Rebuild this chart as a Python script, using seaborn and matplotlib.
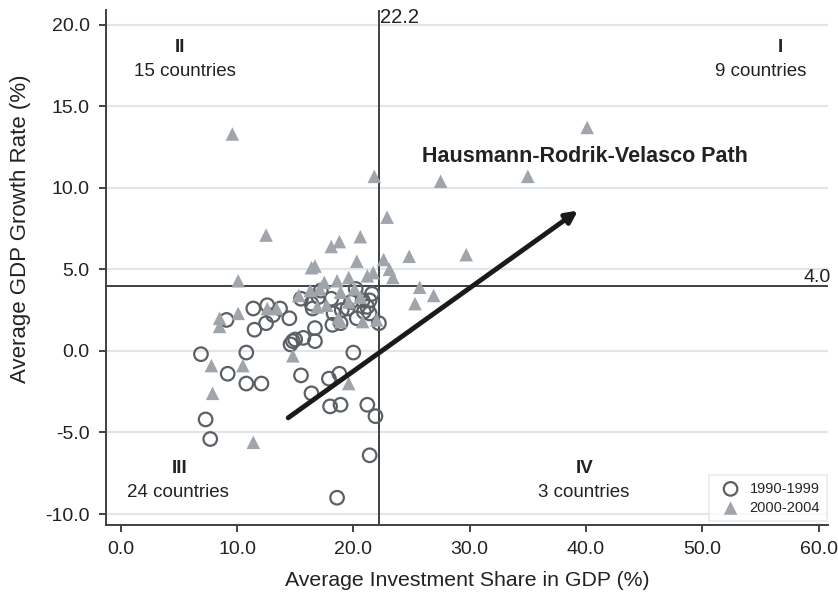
import matplotlib
matplotlib.use("Agg")
import matplotlib.pyplot as plt
import seaborn as sns
import pandas as pd

# 1990-1999 (hollow circles)
inv_90s = [6.9, 7.3, 7.7, 9.2, 10.8, 12.1, 10.8, 9.1, 11.4, 11.5, 12.5, 12.6, 13.1, 13.7,
           14.5, 15.5, 16.4, 16.5, 14.8, 14.6, 15.0, 15.7, 16.7, 16.7, 17.2, 18.1, 18.3,
           18.2, 18.9, 19.5, 19.8, 20.2, 20.3, 20.8, 21.2, 21.4, 20.9, 21.4, 22.2, 20.0,
           15.5, 16.4, 17.9, 18.8, 18.0, 18.9, 21.2, 21.9, 21.4, 18.6, 17.0, 19.0, 21.6]
gdp_90s = [-0.2, -4.2, -5.4, -1.4, -2.0, -2.0, -0.1, 1.9, 2.6, 1.3, 1.7, 2.8, 2.2, 2.6,
           2.0, 3.2, 2.9, 2.6, 0.6, 0.4, 0.7, 0.8, 1.4, 0.6, 3.7, 3.2, 2.3,
           1.6, 1.7, 2.6, 3.0, 3.8, 2.0, 3.1, 2.7, 3.1, 2.4, 2.3, 1.7, -0.1,
           -1.5, -2.6, -1.7, -1.4, -3.4, -3.3, -3.3, -4.0, -6.4, -9.0, 3.3, 2.5, 3.5]

# 2000-2004 (filled triangles)
inv_00s = [40.1, 35.0, 27.5, 29.7, 22.9, 24.8, 22.6, 23.1, 23.4,            # I
           25.7, 26.9, 25.3,                                                # IV
           9.6, 21.8, 12.5, 18.8, 18.1, 20.6, 20.3, 16.4, 16.7, 10.1, 18.6,
           19.6, 21.2, 21.7, 17.5,                                          # II
           8.5, 8.5, 10.1, 7.8, 10.5, 7.9, 11.4, 14.8, 19.6, 12.6, 13.4, 16.3,
           17.1, 18.9, 16.9, 17.7, 18.7, 18.9, 20.6, 20.8, 22.0, 19.6, 15.3, 20.1]  # III
gdp_00s = [13.7, 10.7, 10.4, 5.9, 8.2, 5.8, 5.6, 5.0, 4.5,
           3.9, 3.4, 2.9,
           13.3, 10.7, 7.1, 6.7, 6.4, 7.0, 5.5, 5.1, 5.2, 4.3, 4.3,
           4.5, 4.6, 4.8, 4.2,
           2.0, 1.5, 2.3, -0.9, -0.9, -2.6, -5.6, -0.3, -2.0, 2.6, 2.6, 3.7,
           3.8, 3.6, 2.7, 2.8, 2.0, 1.8, 3.3, 1.8, 1.9, 3.0, 3.4, 3.8]

periods = ["1990-1999", "2000-2004"]
x_ticks = [0, 10, 20, 30, 40, 50, 60]
y_ticks = [-10, -5, 0, 5, 10, 15, 20]
inv_mean = 22.2
gdp_mean = 4.0
quadrants = [("II", "15 countries"), ("I", "9 countries"),
             ("III", "24 countries"), ("IV", "3 countries")]

df = pd.concat([
    pd.DataFrame({"inv": inv_90s, "gdp": gdp_90s, "period": periods[0]}),
    pd.DataFrame({"inv": inv_00s, "gdp": gdp_00s, "period": periods[1]}),
])

sns.set_style("white")
plt.rcParams["font.family"] = ["Liberation Sans", "DejaVu Sans"]

TXT = "#222222"
fig = plt.figure(figsize=(8.38, 5.94), dpi=100)
ax = fig.add_axes([0.1265, 0.1162, 0.8616, 0.867])

for yv in y_ticks:
    ax.axhline(yv, color="#e1e4e8", lw=1.6, zorder=0)

ax.axvline(inv_mean, color="#3d4144", lw=1.4, zorder=1)
ax.axhline(gdp_mean, color="#3d4144", lw=1.4, zorder=1)

d90 = df[df.period == periods[0]]
d00 = df[df.period == periods[1]]
sns.scatterplot(data=d90, x="inv", y="gdp", ax=ax, marker="o", s=95,
                facecolor="none", edgecolor="#5b6064", linewidth=1.6,
                label=periods[0], zorder=3)
sns.scatterplot(data=d00, x="inv", y="gdp", ax=ax, marker="^", s=95,
                color="#a0a5ab", edgecolor="none", linewidth=0,
                label=periods[1], zorder=4)

ax.annotate("", xy=(39.3, 8.6), xytext=(14.4, -4.1),
            arrowprops=dict(arrowstyle="-|>,head_length=0.7,head_width=0.35",
                            color="#1a1a1a", lw=3.5, shrinkA=0, shrinkB=0), zorder=5)
ax.text(39.9, 11.9, "Hausmann-Rodrik-Velasco Path", fontsize=15.5, fontweight="bold",
        ha="center", va="center", color=TXT)

# (roman x, roman y, count x, count y)
qpos = [(5.1, 18.6, 5.5, 17.1), (56.7, 18.6, 55.0, 17.1),
        (5.1, -7.2, 4.9, -8.7), (39.9, -7.2, 39.8, -8.7)]
for (roman, cnt), (rx, ry, cx, cy) in zip(quadrants, qpos):
    ax.text(rx, ry, roman, fontsize=13.5, fontweight="bold", ha="center", va="center",
            color=TXT)
    ax.text(cx, cy, cnt, fontsize=13.5, ha="center", va="center", color=TXT)

ax.text(inv_mean + 0.1, 20.45, f"{inv_mean:.1f}", fontsize=14.5, ha="left", va="center",
        color=TXT, clip_on=False)
ax.text(61.0, gdp_mean + 0.5, f"{gdp_mean:.1f}", fontsize=14, ha="right", va="center",
        color=TXT, clip_on=False)

ax.set_xlim(-1.26, 60.8)
ax.set_ylim(-10.67, 20.9)
ax.set_xticks(x_ticks)
ax.set_xticklabels([f"{v:.1f}" for v in x_ticks])
ax.set_yticks(y_ticks)
ax.set_yticklabels([f"{v:.1f}" for v in y_ticks])
ax.tick_params(axis="both", labelsize=14, colors=TXT, length=4.7, width=1.2,
               direction="out", bottom=True, left=True, pad=7)
for s in ["top", "right"]:
    ax.spines[s].set_visible(False)
for s in ["left", "bottom"]:
    ax.spines[s].set_color("#3d4144")
    ax.spines[s].set_linewidth(1.4)

ax.set_xlabel("Average Investment Share in GDP (%)", fontsize=15.3, color=TXT, labelpad=9)
ax.set_ylabel("Average GDP Growth Rate (%)", fontsize=16, color=TXT, labelpad=4)
ax.yaxis.set_label_coords(-0.104, 0.575)

leg = ax.legend(loc="lower right", fontsize=10.5, frameon=True, edgecolor="#e1e4e8",
                fancybox=False, borderpad=0.45, handletextpad=0.3, labelspacing=0.35,
                borderaxespad=0, bbox_to_anchor=(0.998, 0.007))
leg.get_frame().set_linewidth(1.2)

fig.savefig("out.png", dpi=100)
